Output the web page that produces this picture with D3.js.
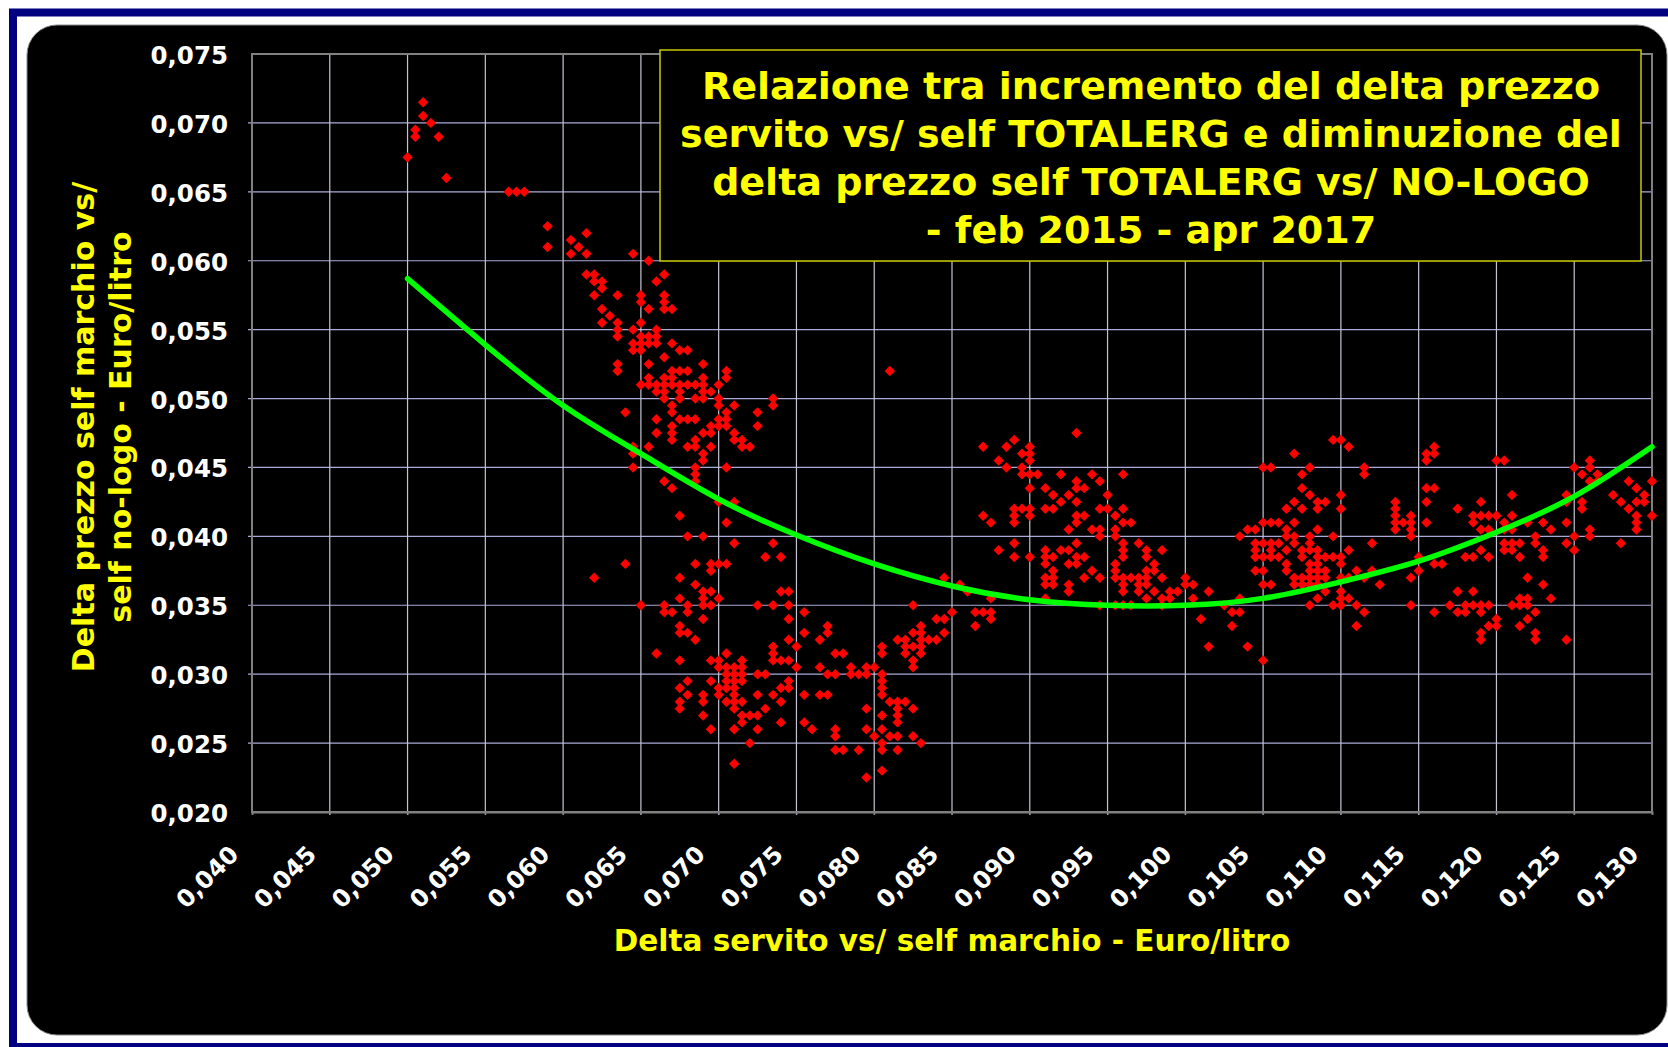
<!DOCTYPE html>
<html>
<head>
<meta charset="utf-8">
<script src="https://cdn.jsdelivr.net/npm/d3@7"></script>
<style>
  html, body { margin: 0; padding: 0; background: #fff; }
  svg { display: block; font-family: "DejaVu Sans", Verdana, sans-serif; font-weight: bold; }
</style>
</head>
<body>
<div id="chart"></div>
<script>
const xTicks = [0.040, 0.045, 0.050, 0.055, 0.060, 0.065, 0.070, 0.075, 0.080, 0.085,
                0.090, 0.095, 0.100, 0.105, 0.110, 0.115, 0.120, 0.125, 0.130]
const yTicks = [0.020, 0.025, 0.030, 0.035, 0.040, 0.045, 0.050, 0.055, 0.060, 0.065, 0.070, 0.075]

const titleLines = [
  "Relazione tra incremento del delta prezzo",
  "servito vs/ self TOTALERG e diminuzione del",
  "delta prezzo self TOTALERG vs/ NO-LOGO",
  "- feb 2015 - apr 2017"
]
const xTitle = "Delta servito vs/ self marchio - Euro/litro"
const yTitleLines = ["Delta prezzo self marchio vs/", "self no-logo - Euro/litro"]

// polynomial trend line
const trendX = [0.050, 0.055, 0.060, 0.065, 0.070, 0.075, 0.080, 0.085, 0.090,
                0.095, 0.100, 0.105, 0.110, 0.115, 0.120, 0.125, 0.130]
const trendY = [0.0587, 0.0539, 0.0495, 0.0460, 0.0427, 0.0401, 0.0380, 0.0364, 0.0354,
                0.0350, 0.0350, 0.0355, 0.0367, 0.0382, 0.0403, 0.0429, 0.0465]

// scatter, one row per y value: [y, [x, x, ...]]
const upperRows = [
  [0.0715, [0.051]],
  [0.0705, [0.051]],
  [0.0700, [0.0515]],
  [0.0695, [0.0505]],
  [0.0690, [0.0505, 0.052]],
  [0.0675, [0.050]],
  [0.0660, [0.0525]],
  [0.0650, [0.0565, 0.057, 0.0575]],
  [0.0625, [0.059]],
  [0.0620, [0.0615]],
  [0.0615, [0.0605]],
  [0.0610, [0.059, 0.061]],
  [0.0605, [0.0605, 0.0615, 0.0645]],
  [0.0600, [0.0655]],
  [0.0590, [0.0615, 0.062, 0.0665]],
  [0.0585, [0.062, 0.0625, 0.066]],
  [0.0580, [0.0625]],
  [0.0575, [0.062, 0.0635, 0.065, 0.0665]],
  [0.0570, [0.065, 0.0665]],
  [0.0565, [0.0625, 0.0655, 0.0665, 0.067]],
  [0.0560, [0.063]],
  [0.0555, [0.0625, 0.0635, 0.065]],
  [0.0550, [0.0635, 0.0645, 0.066]],
  [0.0545, [0.0635, 0.065, 0.0655, 0.066]],
  [0.0540, [0.0645, 0.065, 0.0655, 0.066, 0.067]],
  [0.0535, [0.0645, 0.065, 0.0675, 0.068]],
  [0.0530, [0.0665]],
  [0.0525, [0.0635, 0.0655, 0.069]],
  [0.0520, [0.0635, 0.067, 0.0675, 0.068, 0.0705]],
  [0.0515, [0.0655, 0.0665, 0.067, 0.069, 0.0705]],
  [0.0510, [0.065, 0.0655, 0.066, 0.0665, 0.067, 0.0675, 0.068, 0.0685, 0.069, 0.070]],
  [0.0505, [0.066, 0.0665, 0.0675, 0.069, 0.0695]]
]

const lowerRows = [
  [0.0500, [0.0665, 0.0675, 0.0685, 0.069, 0.070, 0.0735]],
  [0.0495, [0.067, 0.070, 0.071, 0.0735]],
  [0.0490, [0.064, 0.067, 0.0705, 0.0725]],
  [0.0485, [0.066, 0.0675, 0.068, 0.0685, 0.070, 0.0705]],
  [0.0480, [0.067, 0.0695, 0.070, 0.0705, 0.0725]],
  [0.0475, [0.066, 0.067, 0.069, 0.0695, 0.071]],
  [0.0470, [0.067, 0.0685, 0.071, 0.0715]],
  [0.0465, [0.0645, 0.0655, 0.068, 0.0685, 0.0695, 0.0715, 0.072]],
  [0.0460, [0.0645, 0.069]],
  [0.0455, [0.069]],
  [0.0450, [0.0645, 0.0685, 0.0705]],
  [0.0445, [0.0685]],
  [0.0440, [0.0665, 0.0685]],
  [0.0435, [0.067]],
  [0.0425, [0.070, 0.071]],
  [0.0415, [0.0675]],
  [0.0410, [0.0705]],
  [0.0400, [0.068, 0.069]],
  [0.0395, [0.071, 0.0735]],
  [0.0385, [0.073, 0.074]],
  [0.0380, [0.064, 0.0685, 0.0695, 0.070, 0.0705]],
  [0.0375, [0.0695]],
  [0.0370, [0.062, 0.0675]],
  [0.0365, [0.0685]],
  [0.0360, [0.069, 0.0695, 0.074, 0.0745]],
  [0.0355, [0.0675, 0.069, 0.070]],
  [0.0350, [0.065, 0.0665, 0.068, 0.069, 0.0695, 0.0725, 0.0735, 0.0745]],
  [0.0345, [0.0665, 0.067, 0.068, 0.0755]],
  [0.0340, [0.069, 0.0745]],
  [0.0335, [0.0675, 0.077]],
  [0.0330, [0.0675, 0.068, 0.0755, 0.077]],
  [0.0325, [0.0685, 0.0745, 0.0765]],
  [0.0320, [0.0735, 0.075]],
  [0.0315, [0.066, 0.0705, 0.0735, 0.0775, 0.078, 0.0805, 0.082, 0.083]],
  [0.0310, [0.0675, 0.0695, 0.070, 0.0715, 0.0735, 0.074, 0.0745]],
  [0.0305, [0.070, 0.0705, 0.071, 0.0715, 0.075, 0.0765, 0.0785, 0.0795, 0.080, 0.0825]],
  [0.0300, [0.0705, 0.071, 0.0715, 0.0725, 0.073, 0.077, 0.0775, 0.0785, 0.079, 0.0795, 0.0805]],
  [0.0295, [0.068, 0.0695, 0.0705, 0.071, 0.0715, 0.0745, 0.0805]],
  [0.0290, [0.0675, 0.070, 0.0705, 0.071, 0.074, 0.0745, 0.0805]],
  [0.0285, [0.068, 0.069, 0.070, 0.071, 0.0725, 0.0735, 0.0755, 0.0765, 0.077, 0.0805]],
  [0.0280, [0.0675, 0.069, 0.0705, 0.071, 0.0715, 0.074, 0.081, 0.0815, 0.082]],
  [0.0275, [0.0675, 0.071, 0.073, 0.0795, 0.0815, 0.0825]],
  [0.0270, [0.069, 0.0715, 0.072, 0.0725, 0.0805, 0.0815]],
  [0.0265, [0.0715, 0.074, 0.0755, 0.0815]],
  [0.0260, [0.0695, 0.071, 0.0725, 0.076, 0.0775, 0.0795, 0.0805]],
  [0.0255, [0.0775, 0.080, 0.081, 0.0815, 0.0825]],
  [0.0250, [0.072, 0.0805, 0.083]],
  [0.0245, [0.0775, 0.078, 0.079, 0.0805, 0.0815]],
  [0.0235, [0.071]],
  [0.0230, [0.0805]],
  [0.0225, [0.0795]]
]

const middleRows = [
  [0.0520, [0.081]],
  [0.0475, [0.093]],
  [0.0470, [0.089]],
  [0.0465, [0.087, 0.0885, 0.090]],
  [0.0460, [0.0895, 0.090]],
  [0.0455, [0.088, 0.090]],
  [0.0450, [0.0885, 0.0895, 0.105]],
  [0.0445, [0.0895, 0.090, 0.0905, 0.092, 0.094, 0.096]],
  [0.0440, [0.093, 0.0945]],
  [0.0435, [0.090, 0.091, 0.093, 0.0935]],
  [0.0430, [0.0915, 0.0925, 0.095]],
  [0.0425, [0.092, 0.093]],
  [0.0420, [0.089, 0.0895, 0.090, 0.091, 0.0915, 0.0945, 0.095, 0.096]],
  [0.0415, [0.087, 0.089, 0.090, 0.093, 0.0935, 0.0955]],
  [0.0410, [0.0875, 0.089, 0.093, 0.096, 0.0965, 0.105]],
  [0.0405, [0.0925, 0.094, 0.0945, 0.0955, 0.104, 0.1045]],
  [0.0400, [0.0945, 0.0955, 0.1035]],
  [0.0395, [0.089, 0.093, 0.096, 0.097, 0.1045, 0.105]],
  [0.0390, [0.088, 0.091, 0.092, 0.0925, 0.096, 0.0975, 0.0985, 0.1045]],
  [0.0385, [0.089, 0.090, 0.091, 0.0915, 0.093, 0.0935, 0.096, 0.0975, 0.1045, 0.105]],
  [0.0380, [0.091, 0.0925, 0.093, 0.0955, 0.098]],
  [0.0375, [0.0915, 0.094, 0.0955, 0.0975, 0.098, 0.1045, 0.105]],
  [0.0370, [0.0845, 0.091, 0.0915, 0.0935, 0.0945, 0.0955, 0.096, 0.0965, 0.097, 0.0975, 0.0985, 0.100]],
  [0.0365, [0.0855, 0.091, 0.0915, 0.0925, 0.096, 0.097, 0.0975, 0.100, 0.1005, 0.105]],
  [0.0360, [0.086, 0.0925, 0.096, 0.097, 0.098, 0.099, 0.0995, 0.1015]],
  [0.0355, [0.0875, 0.091, 0.0975, 0.0985, 0.099, 0.1005, 0.1035]],
  [0.0350, [0.0825, 0.0945, 0.0955, 0.096, 0.0965, 0.0985, 0.1025]],
  [0.0345, [0.085, 0.0865, 0.087, 0.0875, 0.103, 0.1035]],
  [0.0340, [0.084, 0.0845, 0.0875, 0.101]],
  [0.0335, [0.083, 0.0865, 0.103]],
  [0.0330, [0.0825, 0.083, 0.0845]],
  [0.0325, [0.0815, 0.082, 0.083, 0.0835, 0.084]],
  [0.0320, [0.0805, 0.082, 0.0825, 0.083, 0.1015, 0.104]],
  [0.0310, [0.0825, 0.105]]
]

const rightRows = [
  [0.0470, [0.1095, 0.110]],
  [0.0465, [0.1105, 0.116]],
  [0.0460, [0.107, 0.1155, 0.116]],
  [0.0455, [0.1155, 0.120, 0.1205, 0.126]],
  [0.0450, [0.1055, 0.108, 0.1115, 0.125, 0.126]],
  [0.0445, [0.1075, 0.1115, 0.1255, 0.1265]],
  [0.0440, [0.126, 0.1265, 0.1285, 0.130]],
  [0.0435, [0.1075, 0.1155, 0.116, 0.129]],
  [0.0430, [0.108, 0.110, 0.121, 0.1245, 0.1275, 0.1295]],
  [0.0425, [0.107, 0.1085, 0.109, 0.1135, 0.1155, 0.119, 0.1245, 0.1255, 0.128, 0.129, 0.1295]],
  [0.0420, [0.1065, 0.1075, 0.1085, 0.110, 0.1135, 0.1175, 0.1255, 0.1285]],
  [0.0415, [0.1135, 0.1145, 0.1185, 0.119, 0.1195, 0.120, 0.121, 0.129, 0.130]],
  [0.0410, [0.1055, 0.106, 0.107, 0.1135, 0.114, 0.1145, 0.1155, 0.1185, 0.1205, 0.122, 0.123, 0.1245, 0.129]],
  [0.0405, [0.1065, 0.1085, 0.1135, 0.1145, 0.119, 0.1195, 0.1205, 0.121, 0.1235, 0.126, 0.129]],
  [0.0400, [0.1065, 0.107, 0.108, 0.1095, 0.1145, 0.1225, 0.125, 0.126]],
  [0.0395, [0.1055, 0.106, 0.107, 0.108, 0.112, 0.1205, 0.121, 0.1215, 0.1225, 0.1245, 0.128]],
  [0.0390, [0.1055, 0.1065, 0.1075, 0.108, 0.1085, 0.1105, 0.119, 0.1205, 0.121, 0.123, 0.125]],
  [0.0385, [0.1055, 0.106, 0.1075, 0.1085, 0.109, 0.1095, 0.110, 0.115, 0.118, 0.1185, 0.1195, 0.1215, 0.123]],
  [0.0380, [0.1065, 0.108, 0.1085, 0.110, 0.116, 0.1165]],
  [0.0375, [0.1065, 0.108, 0.1085, 0.109, 0.111, 0.112, 0.115]],
  [0.0370, [0.107, 0.1075, 0.108, 0.1085, 0.109, 0.110, 0.1105, 0.1115, 0.1145, 0.122]],
  [0.0365, [0.1055, 0.107, 0.1075, 0.108, 0.1085, 0.1125, 0.123]],
  [0.0360, [0.109, 0.110, 0.1175, 0.1185]],
  [0.0355, [0.1085, 0.110, 0.1105, 0.1215, 0.122, 0.1235]],
  [0.0350, [0.108, 0.1095, 0.110, 0.111, 0.1145, 0.117, 0.118, 0.1185, 0.119, 0.1195, 0.121, 0.1215, 0.122]],
  [0.0345, [0.1115, 0.116, 0.1175, 0.118, 0.119, 0.1225]],
  [0.0340, [0.120, 0.122]],
  [0.0335, [0.111, 0.1195, 0.120, 0.1215]],
  [0.0330, [0.119, 0.1225]],
  [0.0325, [0.119, 0.1225, 0.1245]]
]

const width = 1668
const height = 1047
const plot = { left: 252, right: 1652, top: 54, bottom: 812 }

const fmt = d3.formatLocale({ decimal: ",", thousands: ".", grouping: [3], currency: ["", "€"] }).format(".3f")

const x = d3.scaleLinear().domain([0.040, 0.130]).range([plot.left, plot.right])
const y = d3.scaleLinear().domain([0.020, 0.075]).range([plot.bottom, plot.top])

const points = [upperRows, lowerRows, middleRows, rightRows]
  .flat()
  .flatMap(([yv, xs]) => xs.map(xv => ({ x: xv, y: yv })))

const svg = d3.select("#chart")
  .append("svg")
  .attr("width", width)
  .attr("height", height)

// outer navy frame and black panel
svg.append("rect")
  .attr("x", 13).attr("y", 12.5)
  .attr("width", 1720).attr("height", 1034.5)
  .style("fill", "none")
  .style("stroke", "#000080")
  .style("stroke-width", 8)

svg.append("rect")
  .attr("x", 27).attr("y", 25)
  .attr("width", 1640).attr("height", 1010)
  .attr("rx", 30)
  .style("fill", "#000")
  .style("stroke", "#8a8a8a")
  .style("stroke-width", 1)

// grid
const grid = svg.append("g")
grid.selectAll("line.h")
  .data(yTicks.slice(1, -1))
  .join("line")
  .attr("class", "h")
  .attr("x1", plot.left - 4).attr("x2", plot.right)
  .attr("y1", d => y(d)).attr("y2", d => y(d))
  .style("stroke", "#aaaad8")
  .style("stroke-width", 1.2)

grid.selectAll("line.v")
  .data(xTicks.slice(1, -1))
  .join("line")
  .attr("class", "v")
  .attr("x1", d => x(d)).attr("x2", d => x(d))
  .attr("y1", plot.top).attr("y2", plot.bottom + 3)
  .style("stroke", "#c4c4d4")
  .style("stroke-width", 1.2)

svg.append("rect")
  .attr("x", plot.left).attr("y", plot.top)
  .attr("width", plot.right - plot.left).attr("height", plot.bottom - plot.top)
  .style("fill", "none")
  .style("stroke", "#808080")
  .style("stroke-width", 2)

// axes
const xAxis = svg.append("g")
  .attr("transform", `translate(0,${plot.bottom})`)
  .call(d3.axisBottom(x).tickValues(xTicks).tickSize(3).tickFormat(""))
xAxis.select(".domain").style("stroke", "#808080").style("stroke-width", 2)
xAxis.selectAll(".tick line").style("stroke", "#808080")

svg.append("g")
  .selectAll("text")
  .data(xTicks)
  .join("text")
  .attr("transform", d => `translate(${x(d) - 12},${plot.bottom + 44}) rotate(-45)`)
  .attr("text-anchor", "end")
  .style("fill", "#fff")
  .style("font-size", "24px")
  .text(d => fmt(d))

svg.append("g")
  .selectAll("text")
  .data(yTicks)
  .join("text")
  .attr("x", 228)
  .attr("y", d => y(d) + 10)
  .attr("text-anchor", "end")
  .style("fill", "#fff")
  .style("font-size", "24.5px")
  .text(d => fmt(d))

// axis titles
svg.append("text")
  .attr("x", 952)
  .attr("y", 951)
  .attr("text-anchor", "middle")
  .style("fill", "#ffff00")
  .style("font-size", "29.5px")
  .text(xTitle)

svg.append("g")
  .selectAll("text")
  .data(yTitleLines)
  .join("text")
  .attr("transform", (d, i) => `translate(${94 + i * 37},427) rotate(-90)`)
  .attr("text-anchor", "middle")
  .style("fill", "#ffff00")
  .style("font-size", "30px")
  .text(d => d)

// title box
svg.append("rect")
  .attr("x", 660).attr("y", 50)
  .attr("width", 981).attr("height", 211)
  .style("fill", "#000")
  .style("stroke", "#c8c800")
  .style("stroke-width", 1.5)

svg.append("g")
  .selectAll("text")
  .data(titleLines)
  .join("text")
  .attr("x", 1151)
  .attr("y", (d, i) => 99 + i * 48)
  .attr("text-anchor", "middle")
  .style("fill", "#ffff00")
  .style("font-size", "38px")
  .text(d => d)

// scatter
svg.append("g")
  .selectAll("path")
  .data(points)
  .join("path")
  .attr("d", d3.symbol(d3.symbolSquare, 54))
  .attr("transform", d => `translate(${x(d.x)},${y(d.y)}) rotate(45)`)
  .style("fill", "#ff0000")

// trend line
const line = d3.line()
  .x((d, i) => x(trendX[i]))
  .y(d => y(d))
  .curve(d3.curveNatural)

svg.append("path")
  .datum(trendY)
  .attr("d", line)
  .style("fill", "none")
  .style("stroke", "#00ff00")
  .style("stroke-width", 5.5)
  .style("stroke-linecap", "round")
</script>
</body>
</html>
